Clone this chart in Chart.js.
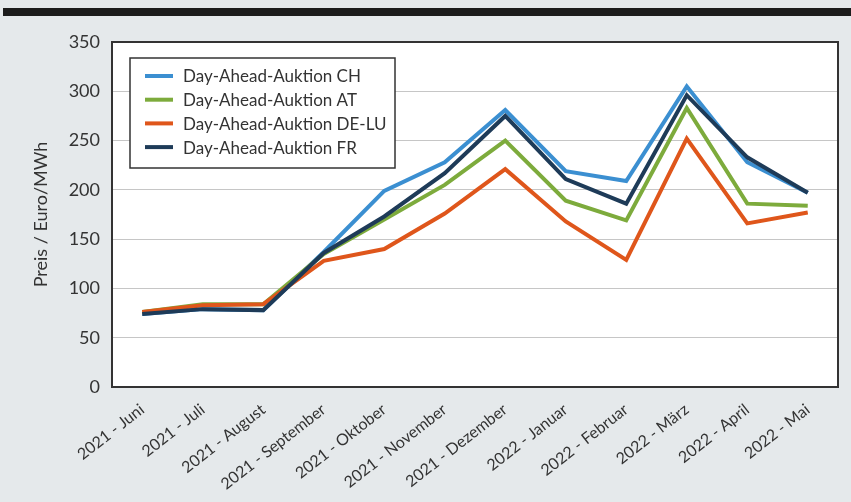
<!DOCTYPE html>
<html lang="de">
<head>
    <meta charset="UTF-8">
    <title>Day-Ahead-Auktion Preise</title>
    <script src="https://cdn.jsdelivr.net/npm/chart.js"></script>
    <style>
        html, body { margin: 0; padding: 0; background: #e5e9eb; }
        #wrap { position: relative; width: 851px; height: 502px; overflow: hidden; }
        #band { position: absolute; left: 3px; top: 8px; width: 848px; height: 8px; background: #1c1c1c; }
        canvas { position: absolute; left: 0; top: 0; }
    </style>
</head>
<body>
<div id="wrap">
    <div id="band"></div>
    <canvas id="chart" width="851" height="502"></canvas>
</div>
<script>
    // Monate
    const months = ['2021 - Juni', '2021 - Juli', '2021 - August', '2021 - September', '2021 - Oktober',
        '2021 - November', '2021 - Dezember', '2022 - Januar', '2022 - Februar', '2022 - März',
        '2022 - April', '2022 - Mai'];

    // Preise in Euro/MWh
    const priceCH = [74, 79, 78, 137, 199, 228, 281, 219, 209, 305, 228, 197];
    const priceAT = [76, 84, 84, 135, 170, 205, 250, 189, 169, 283, 186, 184];
    const priceDE = [76, 83, 84, 128, 140, 176, 221, 168, 129, 252, 166, 177];
    const priceFR = [74, 79, 78, 136, 173, 217, 275, 211, 186, 296, 233, 197];

    const yTicks = [0, 50, 100, 150, 200, 250, 300, 350];

    const fontFamily = 'Lato, "Open Sans", sans-serif';

    // weisse Zeichenfläche + Rahmen
    const frame = {
        id: 'frame',
        beforeDraw(chart) {
            const {ctx, chartArea: a} = chart;
            ctx.save();
            ctx.fillStyle = '#ffffff';
            ctx.fillRect(a.left, a.top, a.right - a.left, a.bottom - a.top);
            ctx.restore();
        },
        afterDraw(chart) {
            const {ctx, chartArea: a} = chart;
            ctx.save();
            ctx.strokeStyle = '#333333';
            ctx.lineWidth = 2;
            ctx.strokeRect(a.left, a.top, a.right - a.left, a.bottom - a.top);
            ctx.restore();
        }
    };

    // Legende im Diagramm (Kasten oben links)
    const boxLegend = {
        id: 'boxLegend',
        afterDatasetsDraw(chart) {
            const ctx = chart.ctx;
            const a = chart.chartArea;
            const x = a.left + 18, y = a.top + 16, w = 265, h = 110;
            ctx.save();
            ctx.fillStyle = '#ffffff';
            ctx.fillRect(x, y, w, h);
            ctx.strokeStyle = '#333333';
            ctx.lineWidth = 1.5;
            ctx.strokeRect(x, y, w, h);
            ctx.font = '17px ' + fontFamily;
            ctx.textBaseline = 'middle';
            chart.data.datasets.forEach((ds, i) => {
                const ry = y + 18 + i * 23.7;
                ctx.strokeStyle = ds.borderColor;
                ctx.lineWidth = 4;
                ctx.beginPath();
                ctx.moveTo(x + 15, ry);
                ctx.lineTo(x + 43, ry);
                ctx.stroke();
                ctx.fillStyle = '#333333';
                ctx.fillText(ds.label, x + 53, ry + 1);
            });
            ctx.restore();
        }
    };

    function series(label, data, color, order) {
        return {
            label: label,
            data: data,
            borderColor: color,
            backgroundColor: color,
            borderWidth: 4,
            pointRadius: 0,
            tension: 0,
            fill: false,
            borderJoinStyle: 'miter',
            order: order
        };
    }

    const ctx = document.getElementById('chart').getContext('2d');
    new Chart(ctx, {
        type: 'line',
        data: {
            labels: months,
            datasets: [
                series('Day-Ahead-Auktion CH', priceCH, '#3b8fd1', 4),
                series('Day-Ahead-Auktion AT', priceAT, '#7dab3c', 3),
                series('Day-Ahead-Auktion DE-LU', priceDE, '#df561b', 2),
                series('Day-Ahead-Auktion FR', priceFR, '#1e3b58', 1)
            ]
        },
        options: {
            responsive: false,
            animation: false,
            layout: { padding: { top: 42, right: 13, left: 0, bottom: 0 } },
            plugins: {
                legend: { display: false },
                tooltip: { enabled: false }
            },
            scales: {
                x: {
                    offset: true,
                    grid: { display: false },
                    border: { display: false },
                    ticks: {
                        autoSkip: false,
                        minRotation: 38,
                        maxRotation: 38,
                        padding: 5,
                        color: '#333333',
                        font: { family: fontFamily, size: 16 }
                    },
                    afterFit(scale) { scale.height = 115; }
                },
                y: {
                    min: 0,
                    max: 350,
                    afterBuildTicks(scale) { scale.ticks = yTicks.map(v => ({ value: v })); },
                    grid: { color: '#c6c6c6', lineWidth: 1, drawTicks: false },
                    border: { display: false },
                    ticks: {
                        padding: 12,
                        color: '#333333',
                        font: { family: fontFamily, size: 18 }
                    },
                    title: {
                        display: true,
                        text: 'Preis / Euro/MWh',
                        color: '#333333',
                        font: { family: fontFamily, size: 18 },
                        padding: { top: 30, bottom: 0 }
                    },
                    afterFit(scale) { scale.width = 112; }
                }
            }
        },
        plugins: [frame, boxLegend]
    });
</script>
</body>
</html>
